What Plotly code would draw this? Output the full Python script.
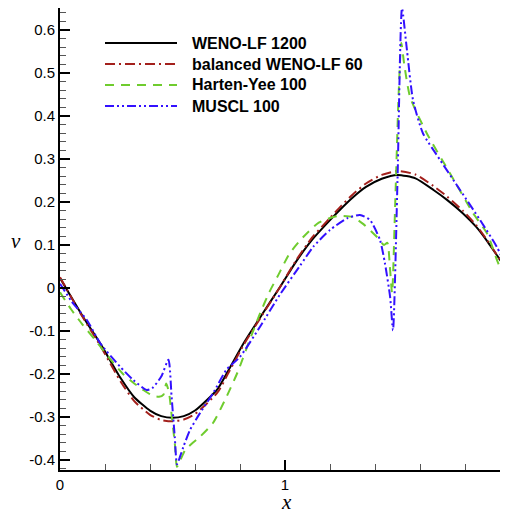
import plotly.graph_objects as go

# ---- data ----
series_names = ["WENO-LF 1200", "balanced WENO-LF 60", "Harten-Yee 100", "MUSCL 100"]

x_ref = [0.0, 0.1, 0.18, 0.27, 0.33, 0.4, 0.45, 0.5, 0.55, 0.6, 0.7, 0.75, 0.82, 0.9, 0.975,
         1.05, 1.12, 1.2, 1.25, 1.3, 1.36, 1.43, 1.5, 1.58, 1.66, 1.72, 1.79, 1.85, 1.9, 1.95, 2.0]
v_ref = [0.023, -0.065, -0.13, -0.21, -0.254, -0.285, -0.298, -0.302, -0.298, -0.285, -0.235,
         -0.19, -0.125, -0.06, 0.0, 0.062, 0.112, 0.158, 0.185, 0.21, 0.235, 0.254, 0.263, 0.255,
         0.228, 0.205, 0.174, 0.142, 0.108, 0.07, 0.032]

x_bal = x_ref
v_bal = [0.025, -0.067, -0.135, -0.218, -0.263, -0.295, -0.307, -0.31, -0.306, -0.293, -0.243,
         -0.196, -0.129, -0.062, 0.0, 0.065, 0.117, 0.163, 0.191, 0.217, 0.243, 0.263, 0.272, 0.264,
         0.237, 0.213, 0.18, 0.146, 0.11, 0.07, 0.03]

x_hy = [0.0, 0.05, 0.1, 0.155, 0.22, 0.28, 0.33, 0.37, 0.41, 0.44, 0.46, 0.472, 0.485, 0.497,
        0.51, 0.52, 0.535, 0.556, 0.59, 0.62, 0.68, 0.74, 0.79, 0.84, 0.89, 0.93, 0.97, 1.02,
        1.08, 1.15, 1.23, 1.3, 1.35, 1.41, 1.44, 1.455, 1.466, 1.476, 1.49, 1.505, 1.517, 1.53,
        1.556, 1.63, 1.733, 1.836, 1.9, 1.95, 2.0]
v_hy = [-0.01, -0.05, -0.085, -0.12, -0.163, -0.2, -0.222, -0.237, -0.25, -0.253, -0.248, -0.222,
        -0.245, -0.3, -0.36, -0.416, -0.4, -0.377, -0.36, -0.347, -0.314, -0.253, -0.195, -0.125,
        -0.058, -0.01, 0.03, 0.08, 0.118, 0.152, 0.167, 0.165, 0.148, 0.118, 0.1, 0.105, 0.05,
        -0.012, 0.2, 0.45, 0.57, 0.52, 0.444, 0.36, 0.267, 0.174, 0.125, 0.055, 0.015]

x_mu = [0.0, 0.05, 0.12, 0.178, 0.267, 0.326, 0.385, 0.41, 0.45, 0.482, 0.496, 0.51, 0.52, 0.535,
        0.548, 0.578, 0.622, 0.68, 0.74, 0.8, 0.889, 0.978, 1.067, 1.126, 1.2, 1.276, 1.333,
        1.378, 1.422, 1.444, 1.467, 1.48, 1.5, 1.52, 1.542, 1.569, 1.613, 1.689, 1.778, 1.867,
        1.942, 2.0]
v_mu = [0.01, -0.03, -0.075, -0.128, -0.183, -0.214, -0.237, -0.233, -0.206, -0.167, -0.253,
        -0.346, -0.41, -0.39, -0.37, -0.33, -0.291, -0.245, -0.19, -0.16, -0.09, -0.015, 0.052,
        0.096, 0.135, 0.162, 0.17, 0.158, 0.112, 0.058, -0.02, -0.098, 0.25, 0.65, 0.553, 0.437,
        0.36, 0.298, 0.228, 0.158, 0.095, 0.03]

y_tickvals = [-0.4, -0.3, -0.2, -0.1, 0.0, 0.1, 0.2, 0.3, 0.4, 0.5, 0.6]
y_ticktext = ["-0.4", "-0.3", "-0.2", "-0.1", "0", "0.1", "0.2", "0.3", "0.4", "0.5", "0.6"]
x_tickvals = [0, 1, 2]
x_ticktext = ["0", "1", "2"]

# ---- styles ----
colors = ["#000000", "#a3201c", "#6fcc2e", "#3311ff"]
dashes = ["solid", "10px,4px,2px,4px", "9px,7px", "9px,3px,2px,3px,2px,3px"]

fig = go.Figure()
for name, xs, ys, c, d in zip(series_names, [x_ref, x_bal, x_hy, x_mu],
                              [v_ref, v_bal, v_hy, v_mu], colors, dashes):
    fig.add_trace(go.Scatter(x=xs, y=ys, mode="lines", name=name, showlegend=False,
                             line=dict(color=c, width=2, dash=d, shape="spline", smoothing=0.6)))

# page body has an 8px margin; positions below are in window pixels
plot_top, plot_bot, plot_left, plot_w = 8, 470, 60, 448
x_max = 1.9911  # the x axis runs just past the window's right edge in the reference
def px_x(sx):
    return (sx - plot_left) / plot_w
def px_y(sy):
    return (plot_bot - sy) / (plot_bot - plot_top)

# manual legend (long line samples, like the reference)
leg_rows_px = [43, 64, 85, 106]
for name, c, d, py in zip(series_names, colors, dashes, leg_rows_px):
    fig.add_shape(type="line", xref="paper", yref="paper",
                  x0=px_x(105), x1=px_x(177), y0=px_y(py), y1=px_y(py),
                  line=dict(color=c, width=2, dash=d))
    fig.add_annotation(xref="paper", yref="paper", x=px_x(190), y=px_y(py),
                       xanchor="left", yanchor="middle", showarrow=False, text=name,
                       font=dict(family="Liberation Sans, Arial", size=16, color="#000000",
                                 weight="bold"))

# axis titles
title_font = dict(family="Liberation Serif, Times New Roman", size=21, style="italic",
                  color="#000000")
fig.add_annotation(xref="paper", yref="paper", x=px_x(16), y=px_y(241), showarrow=False,
                   text="v", xanchor="center", yanchor="middle", font=title_font, height=14)
fig.add_annotation(xref="paper", yref="paper", x=px_x(286), y=px_y(502), showarrow=False,
                   text="x", xanchor="center", yanchor="middle", font=title_font, height=14)

tick_font = dict(family="Liberation Sans, Arial", size=15, color="#000000")
# tick label "2" sits just beyond the clipped right end of the axis
fig.add_annotation(xref="paper", yref="paper", x=x_tickvals[-1] / x_max, y=px_y(483),
                   showarrow=False, text=x_ticktext[-1], xanchor="center", yanchor="middle",
                   font=tick_font)

fig.update_xaxes(range=[0, x_max], showline=True, linecolor="#000000", linewidth=2, mirror=False,
                 showgrid=False, zeroline=False, ticks="inside", ticklen=10, tickwidth=2,
                 tickcolor="#000000", tickvals=x_tickvals, ticktext=x_ticktext,
                 tickfont=tick_font,
                 minor=dict(ticks="inside", ticklen=6, tickwidth=1, tickcolor="#555555",
                            tick0=0, dtick=0.2, showgrid=False))
fig.update_yaxes(range=[-0.4233, 0.6512], showline=True, linecolor="#000000", linewidth=2,
                 mirror=False, showgrid=False, zeroline=False, ticks="inside", ticklen=10,
                 tickwidth=2, tickcolor="#000000", tickvals=y_tickvals, ticktext=y_ticktext,
                 tickfont=tick_font,
                 minor=dict(ticks="inside", ticklen=6, tickwidth=1, tickcolor="#555555",
                            tick0=0, dtick=0.02, showgrid=False))

fig.update_layout(width=500, height=504, margin=dict(l=52, r=0, t=0, b=42),
                  plot_bgcolor="#ffffff", paper_bgcolor="#ffffff", showlegend=False)

fig.write_html("out.html")
